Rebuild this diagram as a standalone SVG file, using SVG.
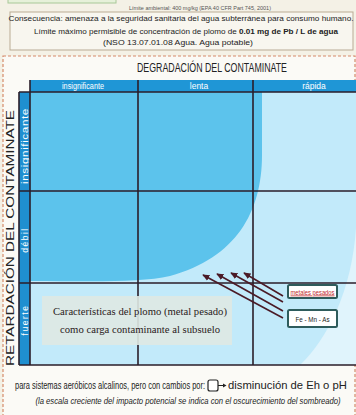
<svg xmlns="http://www.w3.org/2000/svg" width="356" height="415" viewBox="0 0 356 415">
<defs>
<style>
.sans{font-family:"Liberation Sans",Arial,sans-serif}
.serif{font-family:"Liberation Serif","Times New Roman",serif}
.grid{stroke:#2b1e2a;stroke-width:1.6;fill:none}
.hdr{fill:#ffffff;font-size:8.5px;text-anchor:middle}
.arr{stroke:#4a1a26;stroke-width:1.6;fill:none;marker-end:url(#ah)}
.lbl{fill:#ffffff;stroke:#2e5c5c;stroke-width:2}
</style>
<marker id="ah" viewBox="0 0 10 10" refX="8" refY="5" markerWidth="5" markerHeight="5" orient="auto">
<path d="M0,1 L9,5 L0,9 Z" fill="#4a1a26"/>
</marker>
</defs>
<rect x="0" y="0" width="356" height="415" fill="#f4f1e6"/>
<g id="top-note">
<rect x="8" y="-4" width="108" height="7" fill="#e6f1da" stroke="#a8c898" stroke-width="1"/>
<text x="200" y="10" class="sans" font-size="4.5" fill="#555" text-anchor="middle" textLength="142" lengthAdjust="spacingAndGlyphs">Límite ambiental: 400 mg/kg (EPA 40 CFR Part 745, 2001)</text>
</g>
<g id="consecuencia">
<rect x="10" y="12" width="343" height="38" fill="#f8f6ef" stroke="#b9ab94" stroke-width="1"/>
<text x="181" y="21" class="sans" font-size="8" fill="#222" text-anchor="middle" textLength="345" lengthAdjust="spacingAndGlyphs">Consecuencia: amenaza a la seguridad sanitaria del agua subterránea para consumo humano.</text>
<text x="186" y="34" class="sans" font-size="8" fill="#222" text-anchor="middle" textLength="304" lengthAdjust="spacingAndGlyphs">Límite máximo  permisible de concentración de plomo de <tspan font-weight="bold">0.01 mg de Pb / L de agua</tspan></text>
<text x="178" y="45" class="sans" font-size="8" fill="#222" text-anchor="middle" textLength="150" lengthAdjust="spacingAndGlyphs">(NSO 13.07.01.08 Agua. Agua potable)</text>
</g>
<rect x="3" y="56" width="352" height="366" fill="#fbfaf6" stroke="#d58a6a" stroke-width="1.2" stroke-dasharray="3,2"/>
<g id="title">
<text x="212" y="72" class="sans" font-size="12" fill="#222" text-anchor="middle" textLength="150" lengthAdjust="spacingAndGlyphs">DEGRADACIÓN DEL CONTAMINATE</text>
</g>
<g id="matrix">
<rect x="30" y="92" width="326" height="273" fill="#e0f4fc"/>
<path d="M30,92 H356 V228 C352,290 328,338 300,365 H30 Z" fill="#c2eafa"/>
<path d="M30,92 H262 V155 C262,212 236,258 170,276 C140,283 90,281 30,281 Z" fill="#5cc3ec"/>
<rect x="30" y="80" width="326" height="12" fill="#1f96d6"/>
<rect x="19" y="92" width="11" height="273" fill="#1f8fd0"/>
<text x="83" y="89" class="sans hdr" textLength="42" lengthAdjust="spacingAndGlyphs">insignificante</text>
<text x="199" y="89" class="sans hdr">lenta</text>
<text x="314" y="89" class="sans hdr">rápida</text>
<text transform="translate(27.5,146) rotate(-90)" class="sans hdr" font-size="9" letter-spacing="0.4" textLength="76" lengthAdjust="spacingAndGlyphs">insignificante</text>
<text transform="translate(27.5,240) rotate(-90)" class="sans hdr" font-size="9" letter-spacing="1.5">débil</text>
<text transform="translate(27.5,320) rotate(-90)" class="sans hdr" font-size="9" letter-spacing="1.5">fuerte</text>
<path class="grid" d="M19,92 H356 M19,191 H356 M19,283 H356 M19,365 H356 M138,80 V365 M253,80 V365 M30,80 V365 M19,92 V365"/>
</g>
<g id="axis-label">
<text transform="translate(14,238) rotate(-90)" class="sans" font-size="11.5" fill="#222" text-anchor="middle" textLength="256" lengthAdjust="spacingAndGlyphs">RETARDACIÓN  DEL CONTAMINATE</text>
</g>
<g id="caption">
<rect x="42" y="296" width="190" height="49" fill="#dfe9e3" opacity="0.9"/>
<text x="140" y="315" class="serif" font-size="10.5" fill="#2a1a1a" text-anchor="middle" textLength="174" lengthAdjust="spacingAndGlyphs">Características del plomo (metal pesado)</text>
<text x="140" y="333" class="serif" font-size="10.5" fill="#2a1a1a" text-anchor="middle" textLength="160" lengthAdjust="spacingAndGlyphs">como carga contaminante al subsuelo</text>
</g>
<g id="connectors">
<line class="arr" x1="283" y1="296" x2="244" y2="273"/>
<line class="arr" x1="283" y1="302" x2="231" y2="273"/>
<line class="arr" x1="283" y1="311" x2="217" y2="274"/>
<line class="arr" x1="283" y1="318" x2="203" y2="275"/>
</g>
<g id="metales-pesados">
<rect class="lbl" x="288" y="285" width="49" height="13" rx="1.5"/>
<text x="312.5" y="294.5" class="sans" font-size="7.5" fill="#c0282a" text-anchor="middle" text-decoration="underline" textLength="44" lengthAdjust="spacingAndGlyphs">metales pesados</text>
</g>
<g id="fe-mn-as">
<rect class="lbl" x="288" y="310" width="49" height="17" rx="1.5"/>
<text x="312.5" y="321.5" class="sans" font-size="8" fill="#222" text-anchor="middle" textLength="34" lengthAdjust="spacingAndGlyphs">Fe - Mn - As</text>
</g>
<g id="footer">
<text transform="translate(15,389) scale(0.72,1)" class="sans" font-size="10" fill="#222" textLength="264" lengthAdjust="spacingAndGlyphs">para sistemas aeróbicos alcalinos, pero con cambios por:</text>
<rect x="208" y="380" width="10" height="11" rx="2" fill="#ffffff" stroke="#222" stroke-width="1.2"/>
<line x1="218" y1="385.5" x2="224" y2="385.5" stroke="#222" stroke-width="1"/>
<path d="M223,383.5 L226.5,385.5 L223,387.5 Z" fill="#222"/>
<text transform="translate(228,389) scale(0.9,1)" class="sans" font-size="10" fill="#222" textLength="132" lengthAdjust="spacingAndGlyphs">disminución de Eh o pH</text>
<text transform="translate(188,404) scale(0.75,1)" class="sans" font-size="8.5" font-style="italic" fill="#222" text-anchor="middle" textLength="407" lengthAdjust="spacingAndGlyphs">(la escala creciente del impacto potencial se indica con el oscurecimiento del sombreado)</text>
</g>
</svg>
